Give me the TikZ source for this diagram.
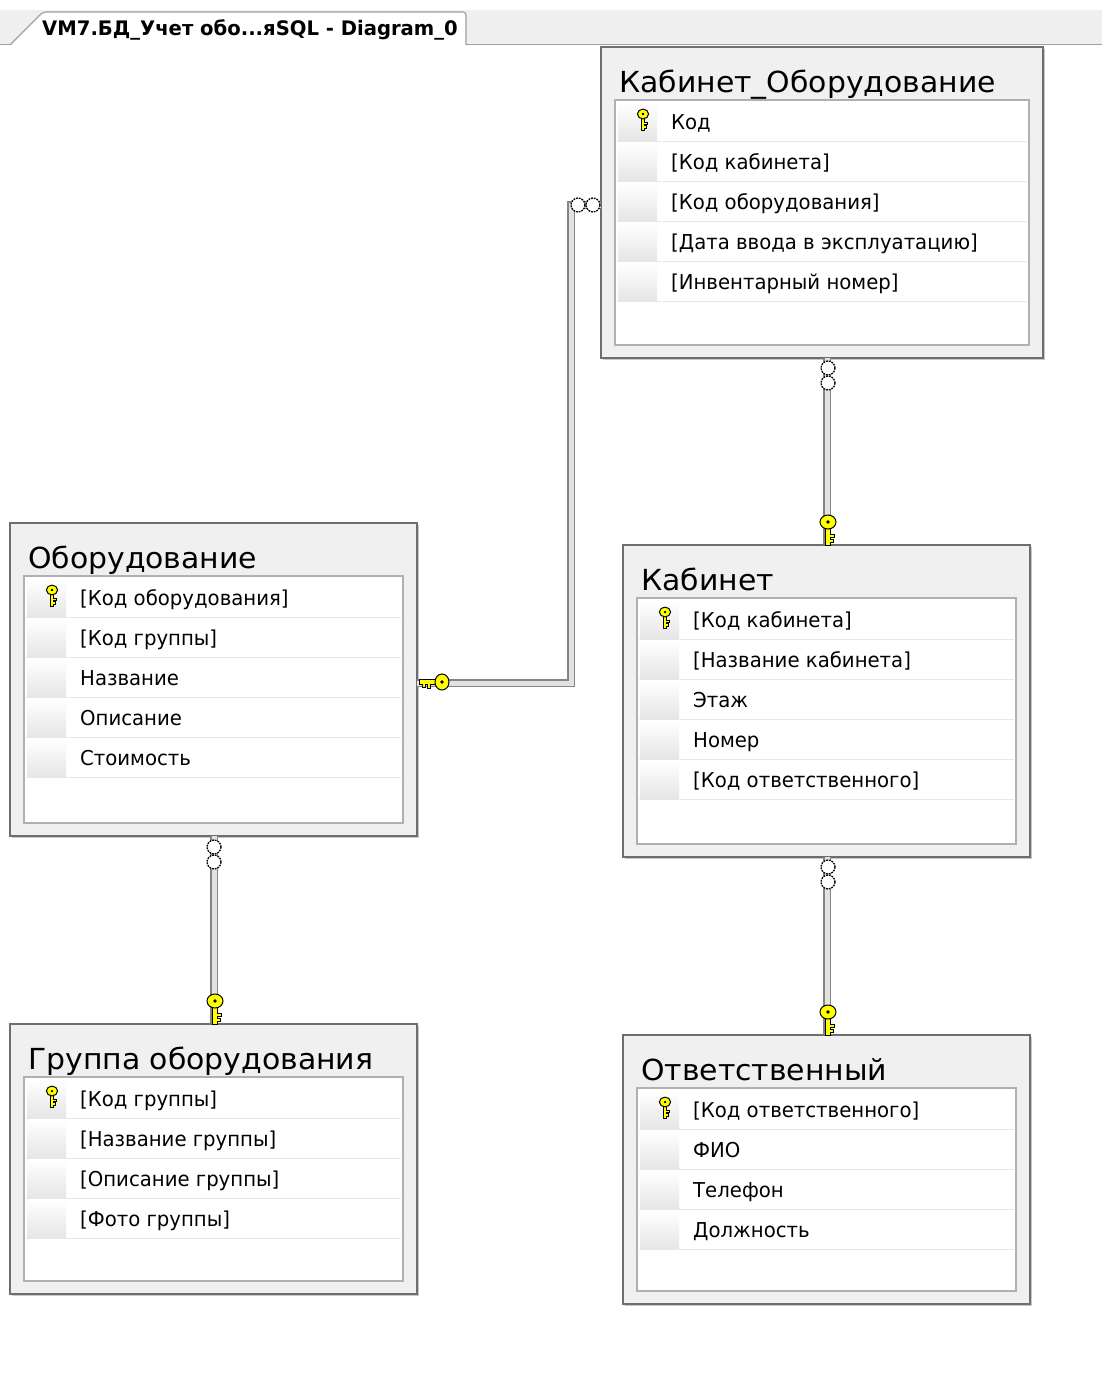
\documentclass[tikz,border=0pt]{standalone}
\usepackage{fontspec}
\setmainfont{DejaVu Sans}
\newfontfamily\uifont[FakeStretch=0.96]{DejaVu Sans}
\newfontfamily\headfont[FakeStretch=1.03]{DejaVu Sans}
\newfontfamily\tabfont[FakeStretch=0.98]{DejaVu Sans}

\definecolor{stripgray}{HTML}{EFEFEF}
\definecolor{tabborder}{HTML}{A0A0A0}
\definecolor{framegray}{HTML}{F0F0F0}
\definecolor{framedark}{HTML}{6E6E6E}
\definecolor{shadowgray}{HTML}{C8C8C8}
\definecolor{innerborder}{HTML}{B0B0B0}
\definecolor{rowline}{HTML}{E8E8E8}
\definecolor{cellshade}{HTML}{E6E6E6}
\definecolor{keyyellow}{HTML}{FFFF00}
\definecolor{linkedge}{HTML}{858585}
\definecolor{linkfill}{HTML}{E2E2E2}

\tikzset{
  tableframe/.style={draw=framedark, fill=framegray, line width=1.6pt,
    anchor=north west, inner sep=0pt, outer sep=0pt},
  innerbox/.style={draw=innerborder, fill=white, line width=1.4pt},
  rowsep/.style={draw=rowline, line width=1.2pt},
  titletext/.style={anchor=base west, inner sep=0pt,
    font=\headfont\fontsize{29}{32}\selectfont},
  rowtext/.style={anchor=base west, inner sep=0pt,
    font=\uifont\fontsize{20.5}{24}\selectfont},
  tabtext/.style={anchor=base west, inner sep=0pt,
    font=\tabfont\bfseries\fontsize{20}{23}\selectfont},
  link/.style={draw=linkedge, line width=1.4pt, double=linkfill,
    double distance=5pt},
  manyend/.style={draw=black, fill=white, line width=1.3pt,
    dash pattern=on 1.8pt off 1pt},
  keystroke/.style={fill=keyyellow, draw=black, line width=1pt},
  fkkey/.pic={
    % shaft with two teeth, pointing away from the head
    \filldraw[keystroke] (-2.5,5) -- (2.5,5) -- (2.5,12) -- (6,12) -- (6,15)
      -- (2.5,15) -- (2.5,17) -- (5.5,17) -- (5.5,20) -- (2.5,20)
      -- (2.5,23) -- (-2.5,23) -- cycle;
    % round head with its hole
    \filldraw[keystroke] (0,0) ellipse (8 and 7);
    \fill[black] (0,0) circle (1.8);
  }
}

% #1 node name, #2/#3 top-left corner, #4/#5 bottom-right corner,
% #6 table title, #7 column names (the first one is the primary key)
\newcommand\dbtable[7]{%
  \fill[shadowgray] (#2+1.5,#3+1.5) rectangle (#4+1.5,#5+1.5);
  \pgfmathsetmacro\tblw{#4-#2}%
  \pgfmathsetmacro\tblh{#5-#3}%
  \node[tableframe, minimum width=\tblw pt, minimum height=\tblh pt]
    (#1) at (#2,#3) {};
  \node[titletext] (#1-title) at (#2+18,#3+45) {#6};
  \draw[innerbox] (#2+14,#3+53) rectangle (#4-14,#5-13);
  \foreach \colname [count=\i] in {#7} {
    \pgfmathsetmacro\rowy{#3+55+40*(\i-1)}
    \shade[top color=white, bottom color=cellshade]
      (#2+17,\rowy+1) rectangle (#2+56,\rowy+38);
    \draw[rowsep] (#2+16,\rowy+39.5) -- (#4-16,\rowy+39.5);
    \node[rowtext] (#1-col\i) at (#2+70,\rowy+27.5) {\colname};
  }
  \pic[scale=0.7] at (#2+42,#3+67) {fkkey};
}

\begin{document}
\begin{tikzpicture}[x=1pt,y=-1pt]
  % page
  \fill[white] (0,0) rectangle (1102,1400);
  \useasboundingbox (0,0) rectangle (1102,1400);

  % document tab strip
  \fill[stripgray] (0,10) rectangle (1102,44);
  \draw[tabborder, line width=1.2pt] (0,44.5) -- (10,44.5);
  \draw[tabborder, line width=1.2pt] (466,44.5) -- (1102,44.5);
  \filldraw[fill=white, draw=tabborder, line width=1.2pt, rounded corners=3pt]
    (10,45) -- (43,12) -- (466,12) -- (466,45);
  \node[tabtext] (tab) at (42,35) {VM7.БД\_Учет обо...яSQL - Diagram\_0};

  % tables
  \dbtable{kabob}{601}{47}{1043}{358}{Кабинет\_Оборудование}
    {Код,{[Код кабинета]},{[Код оборудования]},{[Дата ввода в эксплуатацию]},{[Инвентарный номер]}}
  \dbtable{oborud}{10}{523}{417}{836}{Оборудование}
    {{[Код оборудования]},{[Код группы]},Название,Описание,Стоимость}
  \dbtable{kabinet}{623}{545}{1030}{857}{Кабинет}
    {{[Код кабинета]},{[Название кабинета]},Этаж,Номер,{[Код ответственного]}}
  \dbtable{gruppa}{10}{1024}{417}{1294}{Группа оборудования}
    {{[Код группы]},{[Название группы]},{[Описание группы]},{[Фото группы]}}
  \dbtable{otv}{623}{1035}{1030}{1304}{Ответственный}
    {{[Код ответственного]},ФИО,Телефон,Должность}

  % relationship end points
  \coordinate (r1a) at (oborud.east |- 0,683);
  \coordinate (r1b) at (kabob.west |- 0,205);
  \coordinate (r2a) at (kabob.south -| 827,0);
  \coordinate (r2b) at (kabinet.north -| 827,0);
  \coordinate (r3a) at (oborud.south -| 214,0);
  \coordinate (r3b) at (gruppa.north -| 214,0);
  \coordinate (r4a) at (kabinet.south -| 827,0);
  \coordinate (r4b) at (otv.north -| 827,0);

  % relationship lines
  \draw[link] (r1a) -| (571,205) -- (r1b);
  \draw[link] (r2a) -- (r2b);
  \draw[link] (r3a) -- (r3b);
  \draw[link] (r4a) -- (r4b);

  % "many" ends
  \draw[manyend] (578,205) circle (7);
  \draw[manyend] (593,205) circle (7);
  \draw[manyend] (828,368) circle (7);
  \draw[manyend] (828,383) circle (7);
  \draw[manyend] (214,847) circle (7);
  \draw[manyend] (214,862) circle (7);
  \draw[manyend] (828,867) circle (7);
  \draw[manyend] (828,882) circle (7);

  % "one" ends
  \pic[rotate=-90] at (442,682) {fkkey};
  \pic at (828,522) {fkkey};
  \pic at (215,1001) {fkkey};
  \pic at (828,1012) {fkkey};
\end{tikzpicture}
\end{document}
